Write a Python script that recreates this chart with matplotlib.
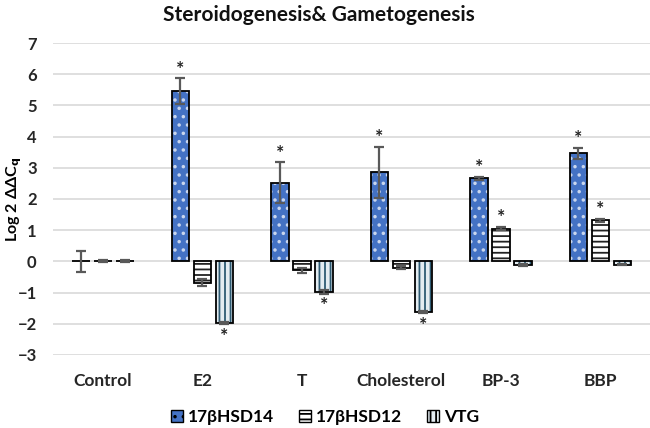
import numpy as np
import matplotlib
matplotlib.use('Agg')
import matplotlib.pyplot as plt
from matplotlib.patches import Patch

plt.rcParams['font.family'] = ['Lato', 'DejaVu Sans']
plt.rcParams['font.weight'] = 'bold'
plt.rcParams['mathtext.default'] = 'bf'
plt.rcParams['hatch.linewidth'] = 1.3

categories = ['Control', 'E2', 'T', 'Cholesterol', 'BP-3', 'BBP']
series_names = ['17βHSD14', '17βHSD12', 'VTG']

hsd14 = [0.0, 5.45, 2.52, 2.85, 2.66, 3.46]
hsd14_err = [0.33, 0.42, 0.65, 0.83, 0.06, 0.18]
hsd12 = [0.0, -0.68, -0.28, -0.2, 1.05, 1.32]
hsd12_err = [0.03, 0.12, 0.08, 0.04, 0.05, 0.05]
vtg = [0.0, -1.98, -0.98, -1.63, -0.12, -0.1]
vtg_err = [0.03, 0.04, 0.05, 0.04, 0.03, 0.03]

# significance flags per series
sig14 = [False, True, True, True, True, True]
sig12 = [False, False, False, False, True, True]
sigvtg = [False, True, True, True, False, False]

fig = plt.figure(figsize=(6.5, 4.28), dpi=100)
ax = fig.add_axes([0.082, 0.1706, 0.918, 0.7289])

x = np.arange(len(categories))
w = 0.176
step = 0.221

styles = [
    dict(fc='#4472C4', hatch='..', hc='#C9D6EE'),
    dict(fc='white', hatch='---', hc='#222222'),
    dict(fc='#E3ECF1', hatch='|||', hc='#2E5B73'),
]
values = [hsd14, hsd12, vtg]
errors = [hsd14_err, hsd12_err, vtg_err]
sigs = [sig14, sig12, sigvtg]

for i, (vals, errs, sig, st) in enumerate(zip(values, errors, sigs, styles)):
    xs = x + (i - 1) * step
    ax.bar(xs, vals, w, color=st['fc'], hatch=st['hatch'], edgecolor=st['hc'], linewidth=0, zorder=2)
    ax.bar(xs, vals, w, fill=False, edgecolor='black', linewidth=1.3, zorder=3)
    ax.errorbar(xs, vals, yerr=errs, fmt='none', ecolor='#595959', elinewidth=1.6,
                capsize=3.5, capthick=1.6, zorder=4)
    for xi, v, e, s in zip(xs, vals, errs, sig):
        if not s:
            continue
        if v >= 0:
            ax.text(xi, v + e + 0.02, '*', ha='center', va='bottom', fontsize=14, color='#222222')
        else:
            ax.text(xi, v - e - 0.65, '*', ha='center', va='bottom', fontsize=14, color='#222222')

ax.set_xlim(-0.5, len(categories) - 0.5)
ax.set_ylim(-3, 7)
ax.set_yticks(range(-3, 8))
ax.set_xticks(x)
ax.set_xticklabels(categories, fontsize=12.5)
ax.tick_params(axis='both', length=0, colors='#262626')
ax.tick_params(axis='y', labelsize=12, pad=12)
ax.tick_params(axis='x', pad=13)
ax.grid(axis='y', color='#D9D9D9', linewidth=1.2, zorder=0)
ax.set_axisbelow(True)
for sp in ax.spines.values():
    sp.set_visible(False)

ax.set_ylabel('Log 2 ΔΔC$_q$', fontsize=11.5, fontweight='bold')
ax.yaxis.label.set_va('center')
ax.yaxis.set_label_coords(-0.066, 0.5)
fig.text(0.49, 0.965, 'Steroidogenesis& Gametogenesis', ha='center', va='center',
         fontsize=15, fontweight='bold', color='#111111')

handles = [Patch(facecolor=st['fc'], hatch=st['hatch'], edgecolor='black', linewidth=1.0)
           for st in styles]
fig.legend(handles, series_names, loc='center', bbox_to_anchor=(0.5, 0.025), ncol=3,
           frameon=False, fontsize=12.5, handlelength=0.7, handleheight=0.7,
           handletextpad=0.3, columnspacing=1.4)

fig.savefig('out.png', dpi=100)
